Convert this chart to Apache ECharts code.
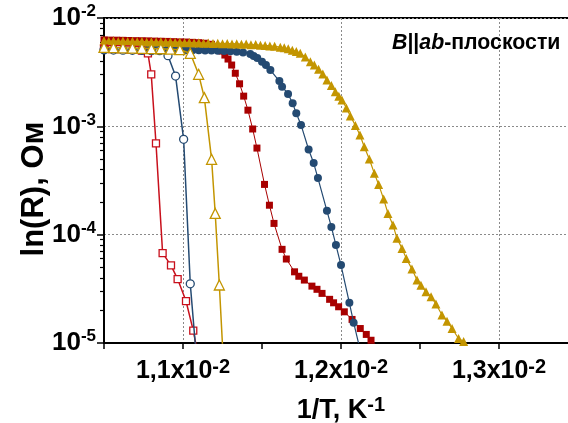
<!DOCTYPE html>
<html><head><meta charset="utf-8">
<script src="https://cdn.jsdelivr.net/npm/echarts@6/dist/echarts.min.js"></script>
<style>html,body{margin:0;padding:0;background:#fff}#c{width:568px;height:423px}</style>
</head><body><div id="c"></div>
<script>
// ---- tick labels ----
const xTickValues = [1.1, 1.2, 1.3];
const xTickText = ['1,1x10', '1,2x10', '1,3x10'];
const xTickExp = '-2';
const yTickValues = [1e-5, 1e-4, 1e-3, 1e-2];
const xAxisTitle = '1/T, K';
const xAxisTitleExp = '-1';
const yAxisTitle = 'ln(R), Ом';
const noteParts = ['B', '||', 'ab', '-плоскости'];

// ---- data (x in units of 10^-2 K^-1, y in Ohm) ----
// open red squares
const redOpenX = [1.050, 1.055, 1.060, 1.065, 1.070, 1.074, 1.0778, 1.0799, 1.0829, 1.0871, 1.0924, 1.0966, 1.1019, 1.1065, 1.1097];
const redOpenY = [5.20e-3, 5.17e-3, 5.15e-3, 5.12e-3, 5.08e-3, 5.00e-3, 4.72e-3, 3.02e-3, 6.97e-4, 6.76e-5, 5.21e-5, 3.89e-5, 2.44e-5, 1.30e-5, 7.5e-6];
// open blue circles
const blueOpenX = [1.050, 1.056, 1.062, 1.068, 1.074, 1.080, 1.0852, 1.0905, 1.0953, 1.1004, 1.1046, 1.1097];
const blueOpenY = [5.08e-3, 5.06e-3, 5.05e-3, 5.03e-3, 5.02e-3, 5.00e-3, 4.99e-3, 4.49e-3, 2.91e-3, 7.59e-4, 3.52e-5, 4.5e-6];
// open gold triangles
const goldOpenX = [1.050, 1.056, 1.062, 1.068, 1.074, 1.080, 1.086, 1.092, 1.098, 1.1046, 1.1099, 1.1135, 1.1181, 1.1204, 1.1230, 1.1268];
const goldOpenY = [5.35e-3, 5.33e-3, 5.30e-3, 5.28e-3, 5.25e-3, 5.22e-3, 5.20e-3, 5.15e-3, 5.10e-3, 4.72e-3, 3.02e-3, 1.84e-3, 4.96e-4, 1.57e-4, 3.43e-5, 3.0e-6];
// filled red squares
const redFillX = [1.050, 1.054, 1.058, 1.062, 1.066, 1.070, 1.074, 1.078, 1.082, 1.086, 1.090, 1.094, 1.098, 1.102, 1.106, 1.110, 1.114, 1.118, 1.122,
  1.1247, 1.1265, 1.1285, 1.1308, 1.1331, 1.1358, 1.1384, 1.1411, 1.1441, 1.1468, 1.1516, 1.1547, 1.1576, 1.1627, 1.1654, 1.1706, 1.1733,
  1.1768, 1.1816, 1.1848, 1.1880, 1.1928, 1.1953, 1.1985, 1.2021, 1.2070, 1.2122, 1.2160, 1.2190, 1.2217];
const redFillY = [6.28e-3, 6.25e-3, 6.24e-3, 6.22e-3, 6.20e-3, 6.18e-3, 6.17e-3, 6.15e-3, 6.12e-3, 6.10e-3, 6.08e-3, 6.05e-3, 6.02e-3, 6.00e-3, 5.96e-3, 5.92e-3, 5.85e-3, 5.72e-3, 5.45e-3,
  4.95e-3, 4.55e-3, 4.18e-3, 3.68e-3, 3.09e-3, 2.47e-3, 1.90e-3, 1.41e-3, 9.45e-4, 6.30e-4, 2.91e-4, 1.87e-4, 1.27e-4, 7.32e-5, 5.96e-5, 4.54e-5, 4.13e-5,
  3.81e-5, 3.35e-5, 3.13e-5, 2.87e-5, 2.53e-5, 2.35e-5, 2.16e-5, 1.94e-5, 1.65e-5, 1.36e-5, 1.20e-5, 1.06e-5, 9.77e-6];
// filled blue circles
const blueFillX = [1.050, 1.054, 1.058, 1.062, 1.066, 1.070, 1.074, 1.078, 1.082, 1.086, 1.090, 1.094, 1.098, 1.102, 1.106, 1.110, 1.114, 1.118, 1.122, 1.126, 1.130, 1.134, 1.138,
  1.1426, 1.1447, 1.1470, 1.1500, 1.1525, 1.1553, 1.1610, 1.1627, 1.1665, 1.1694, 1.1717, 1.1747, 1.1795, 1.1827, 1.1854, 1.1911, 1.1939, 1.1968, 1.2000, 1.2053, 1.2080, 1.2111];
const blueFillY = [5.18e-3, 5.17e-3, 5.16e-3, 5.16e-3, 5.15e-3, 5.14e-3, 5.13e-3, 5.12e-3, 5.11e-3, 5.10e-3, 5.09e-3, 5.08e-3, 5.07e-3, 5.06e-3, 5.05e-3, 5.04e-3, 5.02e-3, 5.00e-3, 4.98e-3, 4.96e-3, 4.93e-3, 4.89e-3, 4.80e-3,
  4.65e-3, 4.46e-3, 4.27e-3, 3.95e-3, 3.68e-3, 3.31e-3, 2.62e-3, 2.32e-3, 1.99e-3, 1.63e-3, 1.32e-3, 1.03e-3, 6.11e-4, 4.58e-4, 3.33e-4, 1.66e-4, 1.18e-4, 8.02e-5, 5.24e-5, 2.35e-5, 1.54e-5, 9.97e-6];
// filled gold triangles
const goldFillX = [1.050, 1.053, 1.056, 1.059, 1.062, 1.065, 1.068, 1.071, 1.074, 1.077, 1.080, 1.083, 1.086, 1.089, 1.092, 1.095, 1.098, 1.101, 1.104, 1.107,
  1.110, 1.113, 1.116, 1.119, 1.122, 1.125, 1.128, 1.131, 1.134, 1.137, 1.140, 1.143, 1.146, 1.149, 1.152, 1.155, 1.158,
  1.1616, 1.1641, 1.1666, 1.1692, 1.1717, 1.1742, 1.1774, 1.1806, 1.1831, 1.1858, 1.1885, 1.1911, 1.1939, 1.1964, 1.1986, 1.2006, 1.2034, 1.2059,
  1.2091, 1.2120, 1.2147, 1.2179, 1.2211, 1.2238, 1.2270, 1.2297, 1.2329, 1.2354, 1.2386, 1.2413, 1.2449, 1.2481, 1.2506, 1.2538, 1.2570,
  1.2601, 1.2639, 1.2671, 1.2703, 1.2744, 1.2776];
const goldFillY = [6.15e-3, 6.10e-3, 6.14e-3, 6.08e-3, 6.12e-3, 6.06e-3, 6.10e-3, 6.04e-3, 6.08e-3, 6.02e-3, 6.05e-3, 6.00e-3, 6.03e-3, 5.98e-3, 6.01e-3, 5.95e-3, 5.98e-3, 5.92e-3, 5.95e-3, 5.89e-3,
  5.92e-3, 5.86e-3, 5.89e-3, 5.83e-3, 5.86e-3, 5.80e-3, 5.83e-3, 5.76e-3, 5.79e-3, 5.72e-3, 5.74e-3, 5.66e-3, 5.68e-3, 5.60e-3, 5.58e-3, 5.52e-3, 5.48e-3,
  5.38e-3, 5.30e-3, 5.20e-3, 5.05e-3, 4.90e-3, 4.72e-3, 4.36e-3, 3.95e-3, 3.68e-3, 3.36e-3, 3.04e-3, 2.68e-3, 2.38e-3, 2.09e-3, 1.90e-3, 1.75e-3, 1.48e-3, 1.245e-3,
  1.02e-3, 8.31e-4, 6.49e-4, 4.99e-4, 3.68e-4, 2.91e-4, 2.13e-4, 1.57e-4, 1.23e-4, 9.25e-5, 7.47e-5, 6.04e-5, 4.81e-5, 3.81e-5, 3.42e-5, 2.97e-5, 2.67e-5,
  2.29e-5, 1.81e-5, 1.59e-5, 1.36e-5, 1.10e-5, 1.03e-5];

const FONT = 'Liberation Sans, Arial, sans-serif';
const RED_O = '#c8101c', RED_F = '#a80000', BLUE = '#244a72', GOLD = '#c39500';

function pairs(xs, ys) { return xs.map((x, i) => [x, ys[i]]); }

// minor log ticks 2..9 per decade
const yMinorTicks = [];
for (let e = -5; e < -2; e++) for (let m = 2; m <= 9; m++) yMinorTicks.push(m * Math.pow(10, e));

const chart = echarts.init(document.getElementById('c'), null, {renderer: 'canvas'});

function mkSeries(name, xs, ys, symbol, size, color, filled, lw, z) {
  return {
    name, type: 'line', data: pairs(xs, ys), symbol, symbolSize: size, showAllSymbol: true,
    xAxisIndex: 0, yAxisIndex: 0,
    lineStyle: {color, width: lw}, itemStyle: {color: filled ? color : '#fff', borderColor: color, borderWidth: filled ? 0 : 1.3},
    z, animation: false, clip: true
  };
}

function rich(bs, ss) {
  return {
    b: {fontSize: bs, fontWeight: 'bold', fontFamily: FONT, color: '#000', lineHeight: bs + 4},
    s: {fontSize: ss, fontWeight: 'bold', fontFamily: FONT, color: '#000', verticalAlign: 'top', lineHeight: ss}
  };
}

chart.setOption({
  animation: false,
  backgroundColor: '#fff',
  grid: {left: 104, top: 18, right: -10, bottom: 80, outerBoundsMode: 'none', containLabel: false,
         show: true, borderColor: '#000', borderWidth: 2, backgroundColor: 'transparent'},
  xAxis: [{
    type: 'value', min: 1.05, max: 1.35, interval: 0.05,
    axisLine: {show: true, onZero: false, lineStyle: {color: '#000', width: 2}},
    axisTick: {show: true, inside: false, length: 6, lineStyle: {color: '#000', width: 1.5}},
    splitLine: {show: false},
    axisLabel: {
      margin: 14,
      formatter: function (v) {
        const i = xTickValues.findIndex(t => Math.abs(t - v) < 1e-6);
        return i < 0 ? '' : '{b|' + xTickText[i] + '}{s|' + xTickExp + '}';
      },
      rich: rich(25, 20)
    },
    name: '{b|' + xAxisTitle + '}{s|' + xAxisTitleExp + '}', nameLocation: 'middle', nameGap: 52,
    nameTextStyle: {rich: rich(27, 20)}
  }, {
    type: 'value', min: 1.05, max: 1.35, interval: 0.05, position: 'bottom',
    axisLine: {show: false}, axisLabel: {show: false},
    axisTick: {show: false, customValues: xTickValues},
    splitLine: {show: true, lineStyle: {color: '#8a8a8a', type: [2, 2], width: 1}}
  }],
  yAxis: [{
    type: 'log', min: 1e-5, max: 1e-2, logBase: 10,
    axisLine: {show: true, onZero: false, lineStyle: {color: '#000', width: 2}},
    axisTick: {show: true, inside: false, length: 7, lineStyle: {color: '#000', width: 1.5}},
    splitLine: {show: true, lineStyle: {color: '#8a8a8a', type: [2, 2], width: 1}},
    axisLabel: {
      margin: 8,
      formatter: function (v) {
        const e = Math.round(Math.log10(v));
        return '{b|10}{s|' + e + '}';
      },
      rich: rich(26, 17)
    }
  }, {
    type: 'log', min: 1e-5, max: 1e-2, logBase: 10, position: 'left',
    axisLine: {show: false}, splitLine: {show: false}, axisLabel: {show: false},
    axisTick: {show: true, inside: false, length: 4, customValues: yMinorTicks, lineStyle: {color: '#000', width: 1.2}}
  }],
  graphic: [{
    type: 'text', left: 392, top: 33, z: 100,
    style: {
      text: '{i|' + noteParts[0] + '}{n|' + noteParts[1] + '}{i|' + noteParts[2] + '}{n|' + noteParts[3] + '}',
      rich: {
        i: {fontSize: 21.3, fontWeight: 'bold', fontStyle: 'italic', fontFamily: FONT, fill: '#000'},
        n: {fontSize: 21.3, fontWeight: 'bold', fontFamily: FONT, fill: '#000'}
      }
    }
  }, {
    type: 'text', x: 34, y: 189, rotation: Math.PI / 2, z: 100,
    style: {text: yAxisTitle, align: 'center', verticalAlign: 'middle',
            fontSize: 31, fontWeight: 'bold', fontFamily: FONT, fill: '#000'}
  }],
  series: [
    mkSeries('redFill', redFillX, redFillY, 'rect', 7, RED_F, true, 1, 2),
    mkSeries('blueFill', blueFillX, blueFillY, 'circle', 8, BLUE, true, 1.2, 3),
    mkSeries('goldFill', goldFillX, goldFillY, 'triangle', 9, GOLD, true, 1.2, 4),
    mkSeries('redOpen', redOpenX, redOpenY, 'rect', 7, RED_O, false, 1.5, 5),
    mkSeries('blueOpen', blueOpenX, blueOpenY, 'circle', 8, BLUE, false, 1.5, 6),
    mkSeries('goldOpen', goldOpenX, goldOpenY, 'triangle', 10, GOLD, false, 1.5, 7)
  ]
});
</script>
</body></html>
